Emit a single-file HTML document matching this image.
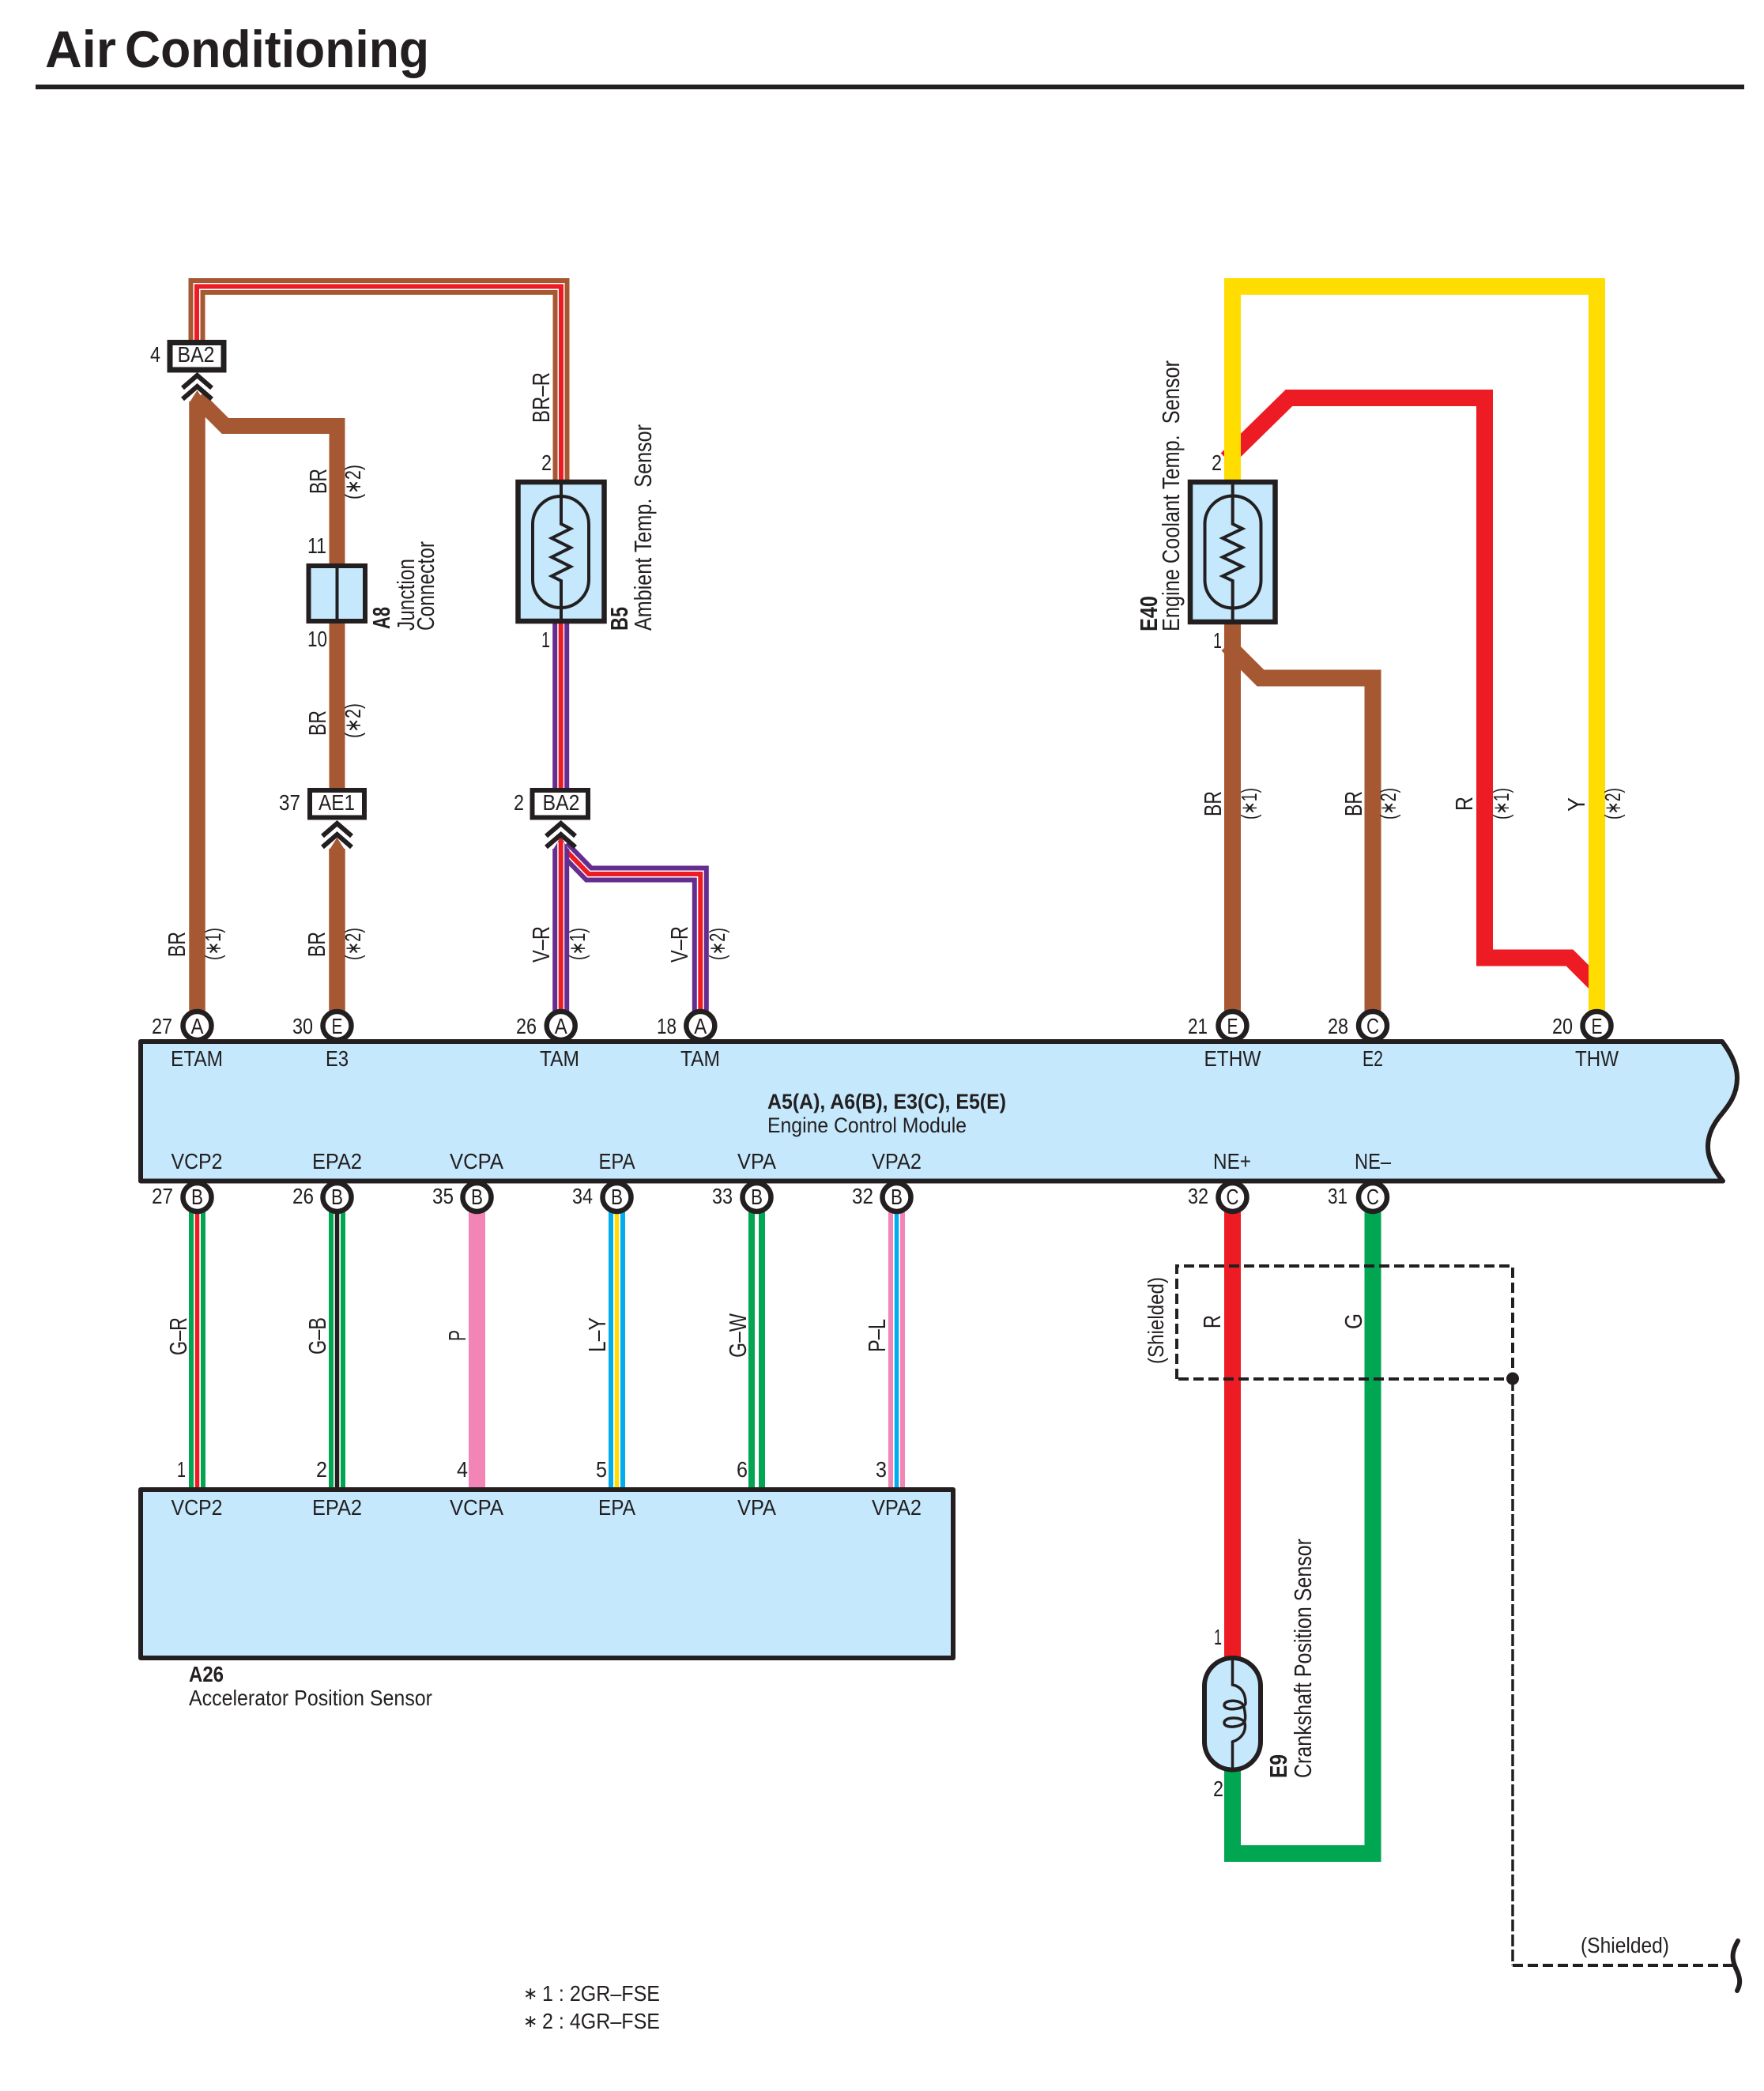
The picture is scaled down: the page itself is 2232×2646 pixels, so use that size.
<!DOCTYPE html>
<html><head><meta charset="utf-8"><title>Air Conditioning</title>
<style>
html,body{margin:0;padding:0;background:#fff}
svg{display:block}
text{font-family:"Liberation Sans",sans-serif;fill:#231F20;font-size:28px}
.b{font-weight:bold}
.m{text-anchor:middle}
.r{font-size:31px}
.w{fill:none;stroke-linejoin:miter;stroke-linecap:butt}
.k{fill:none;stroke:#231F20;stroke-linejoin:miter}
.pin{fill:#fff;stroke:#231F20;stroke-width:6.5}
</style></head><body>
<svg xmlns="http://www.w3.org/2000/svg" width="2232" height="2646" viewBox="0 0 2232 2646">
<rect width="2232" height="2646" fill="#fff"/>
<text class="b" x="57" y="85" style="font-size:66px" textLength="90" lengthAdjust="spacingAndGlyphs">Air</text>
<text class="b" x="158" y="85" style="font-size:66px" textLength="385" lengthAdjust="spacingAndGlyphs">Conditioning</text>
<rect x="45" y="107" width="2162" height="6" fill="#231F20"/>

<!-- BR-R triple -->
<path class="w" stroke="#A65833" stroke-width="21" d="M249 433V362.5H710V607"/>
<path class="w" stroke="#fff" stroke-width="9" d="M249 433V362.5H710V607"/>
<path class="w" stroke="#ED1C24" stroke-width="6" d="M249 433V362.5H710V607"/>

<!-- left brown -->
<path class="w" stroke="#A65833" stroke-width="20" d="M250 504L285 539H426.5V997"/>
<path class="w" stroke="#A65833" stroke-width="20.5" d="M249.5 1280V508"/>
<polygon fill="#A65833" points="239.3,510 249.5,494 259.7,510"/>
<path class="w" stroke="#A65833" stroke-width="20.5" d="M426.5 1280V1074"/>
<polygon fill="#A65833" points="416.3,1076 426.5,1060 436.7,1076"/>

<!-- V-R branch then vertical -->
<path class="w" stroke="#662D91" stroke-width="21" d="M712 1072L745 1106H886.3V1280"/>
<path class="w" stroke="#fff" stroke-width="9" d="M712 1072L745 1106H886.3V1280"/>
<path class="w" stroke="#ED1C24" stroke-width="6" d="M712 1072L745 1106H886.3V1280"/>
<path class="w" stroke="#662D91" stroke-width="21" d="M709.7 789V1037"/>
<path class="w" stroke="#fff" stroke-width="9" d="M709.7 789V1037"/>
<path class="w" stroke="#ED1C24" stroke-width="6" d="M709.7 789V1037"/>
<path class="w" stroke="#662D91" stroke-width="21" d="M709.7 1280V1074"/>
<polygon fill="#662D91" points="699.2,1076 709.7,1059 720.2,1076"/>
<path class="w" stroke="#fff" stroke-width="9" d="M709.7 1280V1066"/>
<path class="w" stroke="#ED1C24" stroke-width="6" d="M709.7 1280V1062"/>

<!-- right group -->
<path class="w" stroke="#ED1C24" stroke-width="21" d="M1552 581L1631 503.5H1878.5V1212H1986L2022 1248"/>
<path class="w" stroke="#FFDD00" stroke-width="21" d="M1559.5 607V362.5H2020.5V1280"/>
<path class="w" stroke="#A65833" stroke-width="21" d="M1553 816L1595 858H1737V1280"/>
<path class="w" stroke="#A65833" stroke-width="21" d="M1559.5 790V1280"/>

<!-- crank wires -->
<path class="w" stroke="#ED1C24" stroke-width="21" d="M1559.5 1530V2098"/>
<path class="w" stroke="#00A651" stroke-width="21" d="M1559.5 2240V2345.5H1737V1530"/>

<!-- bottom wires -->
<g class="w">
<path stroke="#00A651" stroke-width="21" d="M249.5 1530V1885"/><path stroke="#fff" stroke-width="9" d="M249.5 1530V1885"/><path stroke="#ED1C24" stroke-width="5.5" d="M249.5 1530V1885"/>
<path stroke="#00A651" stroke-width="21" d="M426.5 1530V1885"/><path stroke="#fff" stroke-width="9" d="M426.5 1530V1885"/><path stroke="#231F20" stroke-width="5.5" d="M426.5 1530V1885"/>
<path stroke="#F285B5" stroke-width="21" d="M603.5 1530V1885"/>
<path stroke="#00AEEF" stroke-width="21" d="M780.5 1530V1885"/><path stroke="#fff" stroke-width="9" d="M780.5 1530V1885"/><path stroke="#FFDD00" stroke-width="5.5" d="M780.5 1530V1885"/>
<path stroke="#00A651" stroke-width="21" d="M957.5 1530V1885"/><path stroke="#fff" stroke-width="5" d="M957.5 1530V1885"/>
<path stroke="#F285B5" stroke-width="21" d="M1134.5 1530V1885"/><path stroke="#fff" stroke-width="9" d="M1134.5 1530V1885"/><path stroke="#00AEEF" stroke-width="5.5" d="M1134.5 1530V1885"/>
</g>

<!-- ECM -->
<path d="M178 1318H2179C2192 1335 2198 1350 2198 1364C2198 1385 2188 1398 2179 1409C2168 1422 2161 1435 2161 1451C2161 1468 2170 1482 2180 1494.5H178Z" fill="#C5E8FC" stroke="#231F20" stroke-width="6" stroke-linejoin="round"/>
<!-- A26 -->
<rect x="178" y="1885" width="1028" height="213" fill="#C5E8FC" stroke="#231F20" stroke-width="6" stroke-linejoin="round"/>

<!-- pins top -->
<g class="pin">
<circle cx="249.5" cy="1298" r="18"/><circle cx="426.5" cy="1298" r="18"/><circle cx="709.7" cy="1298" r="18"/><circle cx="886.3" cy="1298" r="18"/><circle cx="1559.5" cy="1298" r="18"/><circle cx="1737" cy="1298" r="18"/><circle cx="2020.5" cy="1298" r="18"/>
<circle cx="249.5" cy="1515" r="18"/><circle cx="426.5" cy="1515" r="18"/><circle cx="603.5" cy="1515" r="18"/><circle cx="780.5" cy="1515" r="18"/><circle cx="957.5" cy="1515" r="18"/><circle cx="1134.5" cy="1515" r="18"/><circle cx="1559.5" cy="1515" r="18"/><circle cx="1737" cy="1515" r="18"/>
</g>
<g class="m">
<text class="m" x="249.5" y="1308" textLength="16" lengthAdjust="spacingAndGlyphs">A</text>
<text class="m" x="426.5" y="1308" textLength="14" lengthAdjust="spacingAndGlyphs">E</text>
<text class="m" x="709.7" y="1308" textLength="16" lengthAdjust="spacingAndGlyphs">A</text>
<text class="m" x="886.3" y="1308" textLength="16" lengthAdjust="spacingAndGlyphs">A</text>
<text class="m" x="1559.5" y="1308" textLength="14" lengthAdjust="spacingAndGlyphs">E</text>
<text class="m" x="1737" y="1308" textLength="16" lengthAdjust="spacingAndGlyphs">C</text>
<text class="m" x="2020.5" y="1308" textLength="14" lengthAdjust="spacingAndGlyphs">E</text>
<text class="m" x="249.5" y="1524" textLength="15" lengthAdjust="spacingAndGlyphs">B</text>
<text class="m" x="426.5" y="1524" textLength="15" lengthAdjust="spacingAndGlyphs">B</text>
<text class="m" x="603.5" y="1524" textLength="15" lengthAdjust="spacingAndGlyphs">B</text>
<text class="m" x="780.5" y="1524" textLength="15" lengthAdjust="spacingAndGlyphs">B</text>
<text class="m" x="957.5" y="1524" textLength="15" lengthAdjust="spacingAndGlyphs">B</text>
<text class="m" x="1134.5" y="1524" textLength="15" lengthAdjust="spacingAndGlyphs">B</text>
<text class="m" x="1559.5" y="1524" textLength="16" lengthAdjust="spacingAndGlyphs">C</text>
<text class="m" x="1737" y="1524" textLength="16" lengthAdjust="spacingAndGlyphs">C</text>
</g>

<!-- pin numbers -->
<text x="192" y="1308" textLength="26" lengthAdjust="spacingAndGlyphs">27</text>
<text x="370" y="1308" textLength="26" lengthAdjust="spacingAndGlyphs">30</text>
<text x="653" y="1308" textLength="26" lengthAdjust="spacingAndGlyphs">26</text>
<text x="831" y="1308" textLength="25" lengthAdjust="spacingAndGlyphs">18</text>
<text x="1503" y="1308" textLength="25" lengthAdjust="spacingAndGlyphs">21</text>
<text x="1680" y="1308" textLength="26" lengthAdjust="spacingAndGlyphs">28</text>
<text x="1964" y="1308" textLength="26" lengthAdjust="spacingAndGlyphs">20</text>
<text x="192" y="1523" textLength="27" lengthAdjust="spacingAndGlyphs">27</text>
<text x="370" y="1523" textLength="27" lengthAdjust="spacingAndGlyphs">26</text>
<text x="547" y="1523" textLength="27" lengthAdjust="spacingAndGlyphs">35</text>
<text x="724" y="1523" textLength="26" lengthAdjust="spacingAndGlyphs">34</text>
<text x="901" y="1523" textLength="26" lengthAdjust="spacingAndGlyphs">33</text>
<text x="1078" y="1523" textLength="27" lengthAdjust="spacingAndGlyphs">32</text>
<text x="1503" y="1523" textLength="26" lengthAdjust="spacingAndGlyphs">32</text>
<text x="1680" y="1523" textLength="25" lengthAdjust="spacingAndGlyphs">31</text>

<!-- ECM labels -->
<text class="m" x="249" y="1349" textLength="66" lengthAdjust="spacingAndGlyphs">ETAM</text>
<text class="m" x="426.5" y="1349" textLength="29" lengthAdjust="spacingAndGlyphs">E3</text>
<text class="m" x="708" y="1349" textLength="50" lengthAdjust="spacingAndGlyphs">TAM</text>
<text class="m" x="886" y="1349" textLength="50" lengthAdjust="spacingAndGlyphs">TAM</text>
<text class="m" x="1559.5" y="1349" textLength="72" lengthAdjust="spacingAndGlyphs">ETHW</text>
<text class="m" x="1737" y="1349" textLength="26" lengthAdjust="spacingAndGlyphs">E2</text>
<text class="m" x="2020.5" y="1349" textLength="55" lengthAdjust="spacingAndGlyphs">THW</text>
<text class="m" x="249" y="1479" textLength="65" lengthAdjust="spacingAndGlyphs">VCP2</text>
<text class="m" x="426.5" y="1479" textLength="63" lengthAdjust="spacingAndGlyphs">EPA2</text>
<text class="m" x="603" y="1479" textLength="68" lengthAdjust="spacingAndGlyphs">VCPA</text>
<text class="m" x="780.5" y="1479" textLength="46" lengthAdjust="spacingAndGlyphs">EPA</text>
<text class="m" x="957.5" y="1479" textLength="49" lengthAdjust="spacingAndGlyphs">VPA</text>
<text class="m" x="1134.5" y="1479" textLength="63" lengthAdjust="spacingAndGlyphs">VPA2</text>
<text class="m" x="1559" y="1479" textLength="48" lengthAdjust="spacingAndGlyphs">NE+</text>
<text class="m" x="1737" y="1479" textLength="46" lengthAdjust="spacingAndGlyphs">NE–</text>
<text class="b" x="971" y="1403" style="font-size:27px" textLength="302" lengthAdjust="spacingAndGlyphs">A5(A), A6(B), E3(C), E5(E)</text>
<text x="971" y="1433" style="font-size:27px" textLength="252" lengthAdjust="spacingAndGlyphs">Engine Control Module</text>

<!-- A26 labels -->
<text class="m" x="249" y="1917" textLength="65" lengthAdjust="spacingAndGlyphs">VCP2</text>
<text class="m" x="426.5" y="1917" textLength="63" lengthAdjust="spacingAndGlyphs">EPA2</text>
<text class="m" x="603" y="1917" textLength="68" lengthAdjust="spacingAndGlyphs">VCPA</text>
<text class="m" x="780.5" y="1917" textLength="47" lengthAdjust="spacingAndGlyphs">EPA</text>
<text class="m" x="957.5" y="1917" textLength="49" lengthAdjust="spacingAndGlyphs">VPA</text>
<text class="m" x="1134.5" y="1917" textLength="63" lengthAdjust="spacingAndGlyphs">VPA2</text>
<text class="b" x="239" y="2128" textLength="44" lengthAdjust="spacingAndGlyphs">A26</text>
<text x="239" y="2158" textLength="308" lengthAdjust="spacingAndGlyphs">Accelerator Position Sensor</text>
<text x="224" y="1869" textLength="11" lengthAdjust="spacingAndGlyphs">1</text>
<text x="400" y="1869" textLength="14" lengthAdjust="spacingAndGlyphs">2</text>
<text x="578" y="1869" textLength="14" lengthAdjust="spacingAndGlyphs">4</text>
<text x="754" y="1869" textLength="14" lengthAdjust="spacingAndGlyphs">5</text>
<text x="932" y="1869" textLength="14" lengthAdjust="spacingAndGlyphs">6</text>
<text x="1108" y="1869" textLength="14" lengthAdjust="spacingAndGlyphs">3</text>

<!-- bottom wire labels -->
<text class="r" transform="translate(236,1715) rotate(-90)" textLength="48" lengthAdjust="spacingAndGlyphs">G–R</text>
<text class="r" transform="translate(412,1714) rotate(-90)" textLength="47" lengthAdjust="spacingAndGlyphs">G–B</text>
<text class="r" transform="translate(589,1697) rotate(-90)" textLength="14" lengthAdjust="spacingAndGlyphs">P</text>
<text class="r" transform="translate(766,1711) rotate(-90)" textLength="44" lengthAdjust="spacingAndGlyphs">L–Y</text>
<text class="r" transform="translate(944,1718) rotate(-90)" textLength="56" lengthAdjust="spacingAndGlyphs">G–W</text>
<text class="r" transform="translate(1120,1711) rotate(-90)" textLength="42" lengthAdjust="spacingAndGlyphs">P–L</text>

<!-- left upper labels -->
<text class="r" transform="translate(413,625) rotate(-90)" textLength="32" lengthAdjust="spacingAndGlyphs">BR</text>
<text transform="translate(456,632) rotate(-90)" textLength="44" lengthAdjust="spacingAndGlyphs">(∗2)</text>
<text class="r" transform="translate(412,931) rotate(-90)" textLength="32" lengthAdjust="spacingAndGlyphs">BR</text>
<text transform="translate(456,934) rotate(-90)" textLength="44" lengthAdjust="spacingAndGlyphs">(∗2)</text>
<text class="r" transform="translate(234,1211) rotate(-90)" textLength="32" lengthAdjust="spacingAndGlyphs">BR</text>
<text transform="translate(279,1215) rotate(-90)" textLength="41" lengthAdjust="spacingAndGlyphs">(∗1)</text>
<text class="r" transform="translate(411,1211) rotate(-90)" textLength="32" lengthAdjust="spacingAndGlyphs">BR</text>
<text transform="translate(456,1215) rotate(-90)" textLength="41" lengthAdjust="spacingAndGlyphs">(∗2)</text>
<text class="r" transform="translate(695,1218) rotate(-90)" textLength="46" lengthAdjust="spacingAndGlyphs">V–R</text>
<text transform="translate(740,1215) rotate(-90)" textLength="41" lengthAdjust="spacingAndGlyphs">(∗1)</text>
<text class="r" transform="translate(870,1218) rotate(-90)" textLength="46" lengthAdjust="spacingAndGlyphs">V–R</text>
<text transform="translate(917,1215) rotate(-90)" textLength="41" lengthAdjust="spacingAndGlyphs">(∗2)</text>
<text class="r" transform="translate(695,535) rotate(-90)" textLength="64" lengthAdjust="spacingAndGlyphs">BR–R</text>

<!-- right labels -->
<text class="r" transform="translate(1545,1033) rotate(-90)" textLength="32" lengthAdjust="spacingAndGlyphs">BR</text>
<text transform="translate(1590,1037) rotate(-90)" textLength="40" lengthAdjust="spacingAndGlyphs">(∗1)</text>
<text class="r" transform="translate(1723,1033) rotate(-90)" textLength="32" lengthAdjust="spacingAndGlyphs">BR</text>
<text transform="translate(1766,1037) rotate(-90)" textLength="40" lengthAdjust="spacingAndGlyphs">(∗2)</text>
<text class="r" transform="translate(1863,1026) rotate(-90)" textLength="18" lengthAdjust="spacingAndGlyphs">R</text>
<text transform="translate(1909,1037) rotate(-90)" textLength="40" lengthAdjust="spacingAndGlyphs">(∗1)</text>
<text class="r" transform="translate(2005,1027) rotate(-90)" textLength="18" lengthAdjust="spacingAndGlyphs">Y</text>
<text transform="translate(2050,1037) rotate(-90)" textLength="40" lengthAdjust="spacingAndGlyphs">(∗2)</text>

<!-- connectors -->
<rect x="215" y="433.5" width="68" height="34.5" fill="#fff" stroke="#231F20" stroke-width="7"/>
<rect x="392" y="1000" width="69" height="34.5" fill="#fff" stroke="#231F20" stroke-width="6"/>
<rect x="673.5" y="1000" width="70.5" height="34.5" fill="#fff" stroke="#231F20" stroke-width="6"/>
<text class="m" x="248" y="458" textLength="47" lengthAdjust="spacingAndGlyphs">BA2</text>
<text x="190" y="458" textLength="13" lengthAdjust="spacingAndGlyphs">4</text>
<text class="m" x="426" y="1025" textLength="46" lengthAdjust="spacingAndGlyphs">AE1</text>
<text x="353" y="1025" textLength="27" lengthAdjust="spacingAndGlyphs">37</text>
<text class="m" x="710" y="1025" textLength="47" lengthAdjust="spacingAndGlyphs">BA2</text>
<text x="650" y="1025" textLength="13" lengthAdjust="spacingAndGlyphs">2</text>

<!-- chevrons -->
<g class="k" stroke-width="6">
<path d="M231 491L249.5 475L268 491"/><path d="M231 505L249.5 489L268 505"/>
<path d="M408 1058L426.5 1042L445 1058"/><path d="M408 1072L426.5 1056L445 1072"/>
<path d="M691 1058L709.7 1042L728 1058"/><path d="M691 1072L709.7 1056L728 1072"/>
</g>

<!-- A8 -->
<rect x="390.5" y="716" width="71.5" height="70" fill="#C5E8FC" stroke="#231F20" stroke-width="6"/>
<path d="M426.5 716V786" stroke="#231F20" stroke-width="4" fill="none"/>
<text x="389" y="700" textLength="24" lengthAdjust="spacingAndGlyphs">11</text>
<text x="389" y="818" textLength="25" lengthAdjust="spacingAndGlyphs">10</text>
<text class="b r" transform="translate(493,796) rotate(-90)" textLength="28" lengthAdjust="spacingAndGlyphs">A8</text>
<text class="r" transform="translate(524,798) rotate(-90)" textLength="91" lengthAdjust="spacingAndGlyphs">Junction</text>
<text class="r" transform="translate(549,798) rotate(-90)" textLength="113" lengthAdjust="spacingAndGlyphs">Connector</text>

<!-- B5 -->
<rect x="655.5" y="610" width="109" height="176" fill="#C5E8FC" stroke="#231F20" stroke-width="6.5"/>
<rect x="674" y="628" width="71" height="141" rx="35.5" ry="35.5" fill="none" stroke="#231F20" stroke-width="4"/>
<path d="M710 610V663L722 669L698 681L722 693L698 705L722 717L698 729L710 735V786" fill="none" stroke="#231F20" stroke-width="4"/>
<text x="685" y="595" textLength="13" lengthAdjust="spacingAndGlyphs">2</text>
<text x="685" y="819" textLength="11" lengthAdjust="spacingAndGlyphs">1</text>
<text class="b r" transform="translate(794,798) rotate(-90)" textLength="30" lengthAdjust="spacingAndGlyphs">B5</text>
<text class="r" transform="translate(824,798) rotate(-90)" textLength="261" lengthAdjust="spacingAndGlyphs">Ambient Temp.&#160; Sensor</text>

<!-- E40 -->
<rect x="1506" y="610" width="107.5" height="177" fill="#C5E8FC" stroke="#231F20" stroke-width="6.5"/>
<rect x="1524.5" y="627.5" width="71" height="142" rx="35.5" ry="35.5" fill="none" stroke="#231F20" stroke-width="4"/>
<path d="M1559.7 610V663L1572 669L1547 681L1572 693L1547 705L1572 717L1547 729L1559.7 735V787" fill="none" stroke="#231F20" stroke-width="4"/>
<text x="1533" y="595" textLength="13" lengthAdjust="spacingAndGlyphs">2</text>
<text x="1535" y="820" textLength="11" lengthAdjust="spacingAndGlyphs">1</text>
<text class="b r" transform="translate(1464,799) rotate(-90)" textLength="45" lengthAdjust="spacingAndGlyphs">E40</text>
<text class="r" transform="translate(1492,799) rotate(-90)" textLength="343" lengthAdjust="spacingAndGlyphs">Engine Coolant Temp.&#160; Sensor</text>

<!-- E9 -->
<rect x="1524" y="2098" width="71" height="141.5" rx="35.5" ry="35.5" fill="#C5E8FC" stroke="#231F20" stroke-width="6"/>
<path d="M1559.5 2098V2132C1570 2134 1576 2142 1576 2155C1576 2163 1550 2166 1549 2158C1549 2150 1572 2150 1574 2160C1576 2170 1576 2174 1575 2178C1572 2186 1549 2188 1549 2180C1549 2172 1572 2172 1575 2180C1577 2190 1572 2200 1559.5 2204V2240" fill="none" stroke="#231F20" stroke-width="3.5"/>
<text x="1536" y="2081" textLength="10" lengthAdjust="spacingAndGlyphs">1</text>
<text x="1535" y="2273" textLength="13" lengthAdjust="spacingAndGlyphs">2</text>
<text class="b r" transform="translate(1628,2250) rotate(-90)" textLength="30" lengthAdjust="spacingAndGlyphs">E9</text>
<text class="r" transform="translate(1659,2250) rotate(-90)" textLength="303" lengthAdjust="spacingAndGlyphs">Crankshaft Position Sensor</text>

<!-- Shield -->
<path d="M1489 1745V1602H1914V1745H1489" fill="none" stroke="#231F20" stroke-width="4" stroke-dasharray="13 6"/>
<path d="M1914 1745V2487" fill="none" stroke="#231F20" stroke-width="3.5" stroke-dasharray="15 4"/>
<path d="M1914 2487H2194" fill="none" stroke="#231F20" stroke-width="4" stroke-dasharray="13 6"/>
<circle cx="1914" cy="1744.5" r="8" fill="#231F20"/>
<path d="M2199 2456C2191 2470 2191 2478 2196 2490C2202 2502 2203 2510 2198 2519" fill="none" stroke="#231F20" stroke-width="6" stroke-linecap="round"/>
<text transform="translate(1472,1726) rotate(-90)" textLength="110" lengthAdjust="spacingAndGlyphs">(Shielded)</text>
<text class="r" transform="translate(1544,1681) rotate(-90)" textLength="17" lengthAdjust="spacingAndGlyphs">R</text>
<text class="r" transform="translate(1723,1682) rotate(-90)" textLength="20" lengthAdjust="spacingAndGlyphs">G</text>
<text x="2000" y="2471" textLength="112" lengthAdjust="spacingAndGlyphs">(Shielded)</text>

<!-- notes -->
<text x="662" y="2530" style="font-size:22px">∗</text>
<text x="686" y="2532" textLength="149" lengthAdjust="spacingAndGlyphs">1 : 2GR–FSE</text>
<text x="662" y="2565" style="font-size:22px">∗</text>
<text x="686" y="2567" textLength="149" lengthAdjust="spacingAndGlyphs">2 : 4GR–FSE</text>
</svg>
</body></html>
